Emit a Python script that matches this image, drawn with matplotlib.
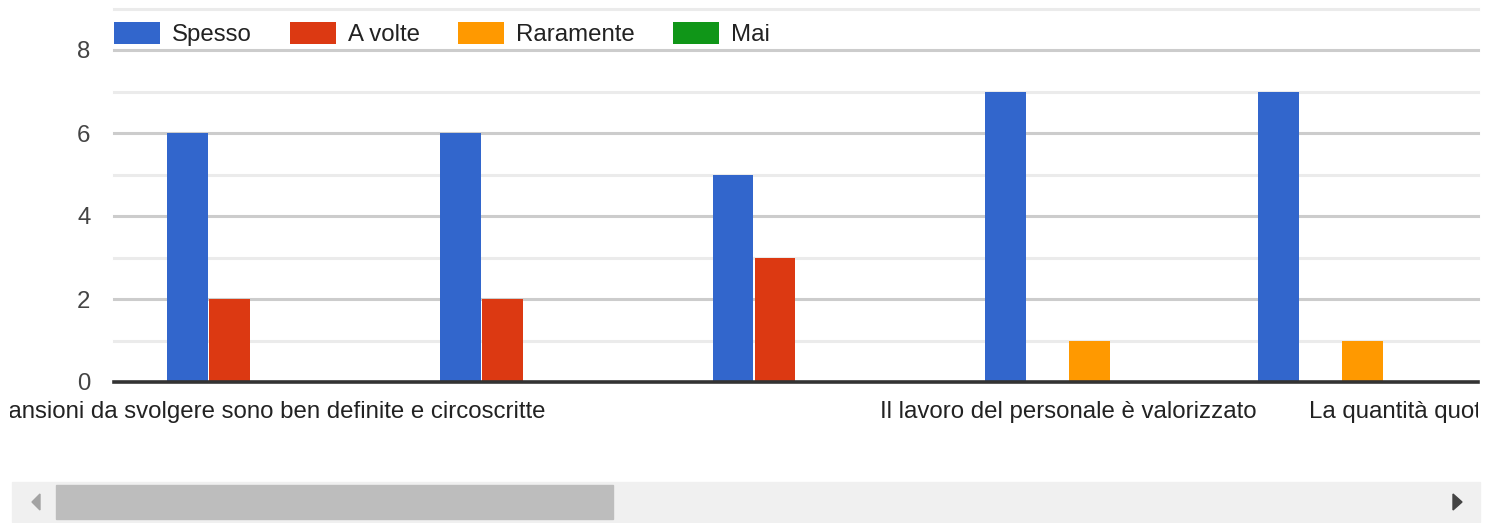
import matplotlib.pyplot as plt
from matplotlib.patches import Rectangle, Polygon
import numpy as np

plt.rcParams['font.family'] = ['Liberation Sans', 'DejaVu Sans']

categories = [
    'Le mansioni da svolgere sono ben definite e circoscritte',
    '',
    '',
    'Il lavoro del personale è valorizzato',
    'La quantità quotidiana di lavoro è adeguata',
]
series = ['Spesso', 'A volte', 'Raramente', 'Mai']
colors = ['#3266cc', '#dc3912', '#ff9900', '#109618']
spesso = [6, 6, 5, 7, 7]
a_volte = [2, 2, 3, 0, 0]
raramente = [0, 0, 0, 1, 1]
mai = [0, 0, 0, 0, 0]
values = [spesso, a_volte, raramente, mai]
yticks = [0, 2, 4, 6, 8]

W, H = 1490, 523
fig = plt.figure(figsize=(W / 100, H / 100), dpi=100)

# main plot area (pixel geometry of the reference)
ax = fig.add_axes([114 / W, 1 - 382 / H, (1478 - 114) / W, (382 - 8.5) / H])
x = np.arange(len(categories))
step = 0.154
for i, (name, vals, c) in enumerate(zip(series, values, colors)):
    v = np.array(vals, dtype=float)
    keep = v > 0
    ax.bar(x[keep] + (i - 1.5) * step, v[keep], width=step * 0.975,
           color=c, zorder=3)
    # legend proxy
    ax.bar([0], [0], width=0, color=c, label=name)

ax.set_xlim(-0.5, len(categories) - 0.5)
ax.set_ylim(0, 9)
for yv in range(1, 10):
    major = yv % 2 == 0
    ax.axhline(yv, color='#cccccc' if major else '#ebebeb', lw=2.2,
               zorder=1, clip_on=False)
ax.axhline(0, color='#333333', lw=2.6, zorder=4, clip_on=False)
for s in ax.spines.values():
    s.set_visible(False)
ax.set_xticks([])
ax.set_yticks(yticks)
ax.tick_params(axis='y', length=0, pad=17, labelsize=17.3, labelcolor='#444444')

leg = ax.legend(loc='center left', bbox_to_anchor=(114 / W, 1 - 34 / H),
                bbox_transform=fig.transFigure, ncol=4, frameon=False,
                fontsize=17.3, handlelength=1.92, handleheight=1.0,
                handletextpad=0.5, columnspacing=1.58, borderpad=0,
                borderaxespad=0)
for t in leg.get_texts():
    t.set_color('#222222')

# category labels (clipped like the scrolling viewport)
lax = fig.add_axes([10 / W, 1 - 432 / H, (1478 - 10) / W, 40 / H])
lax.set_xlim((10 - 114) / 272.8 - 0.5, len(categories) - 0.5)
lax.set_ylim(0, 1)
lax.axis('off')
for i, lab in enumerate(categories):
    if not lab:
        continue
    if i == len(categories) - 1:
        lax.text(i - 0.12, 0.5, lab, ha='left', va='center', fontsize=17.3,
                 color='#222222', clip_on=True)
    else:
        lax.text(i, 0.5, lab, ha='center', va='center', fontsize=17.3,
                 color='#222222', clip_on=True)

# horizontal scrollbar
sax = fig.add_axes([0, 0, 1, 1], zorder=-1)
sax.set_xlim(0, W)
sax.set_ylim(H, 0)
sax.axis('off')
sax.add_patch(Rectangle((12, 482), 1468, 40, color='#f0f0f0'))
sax.add_patch(Rectangle((56, 485), 557, 34, color='#bdbdbd'))
sax.add_patch(Polygon([(40, 494), (40, 510), (32, 502)], color='#a3a3a3'))
sax.add_patch(Polygon([(1453, 494), (1453, 510), (1462, 502)], color='#444444'))

fig.savefig('out.png', dpi=100)
